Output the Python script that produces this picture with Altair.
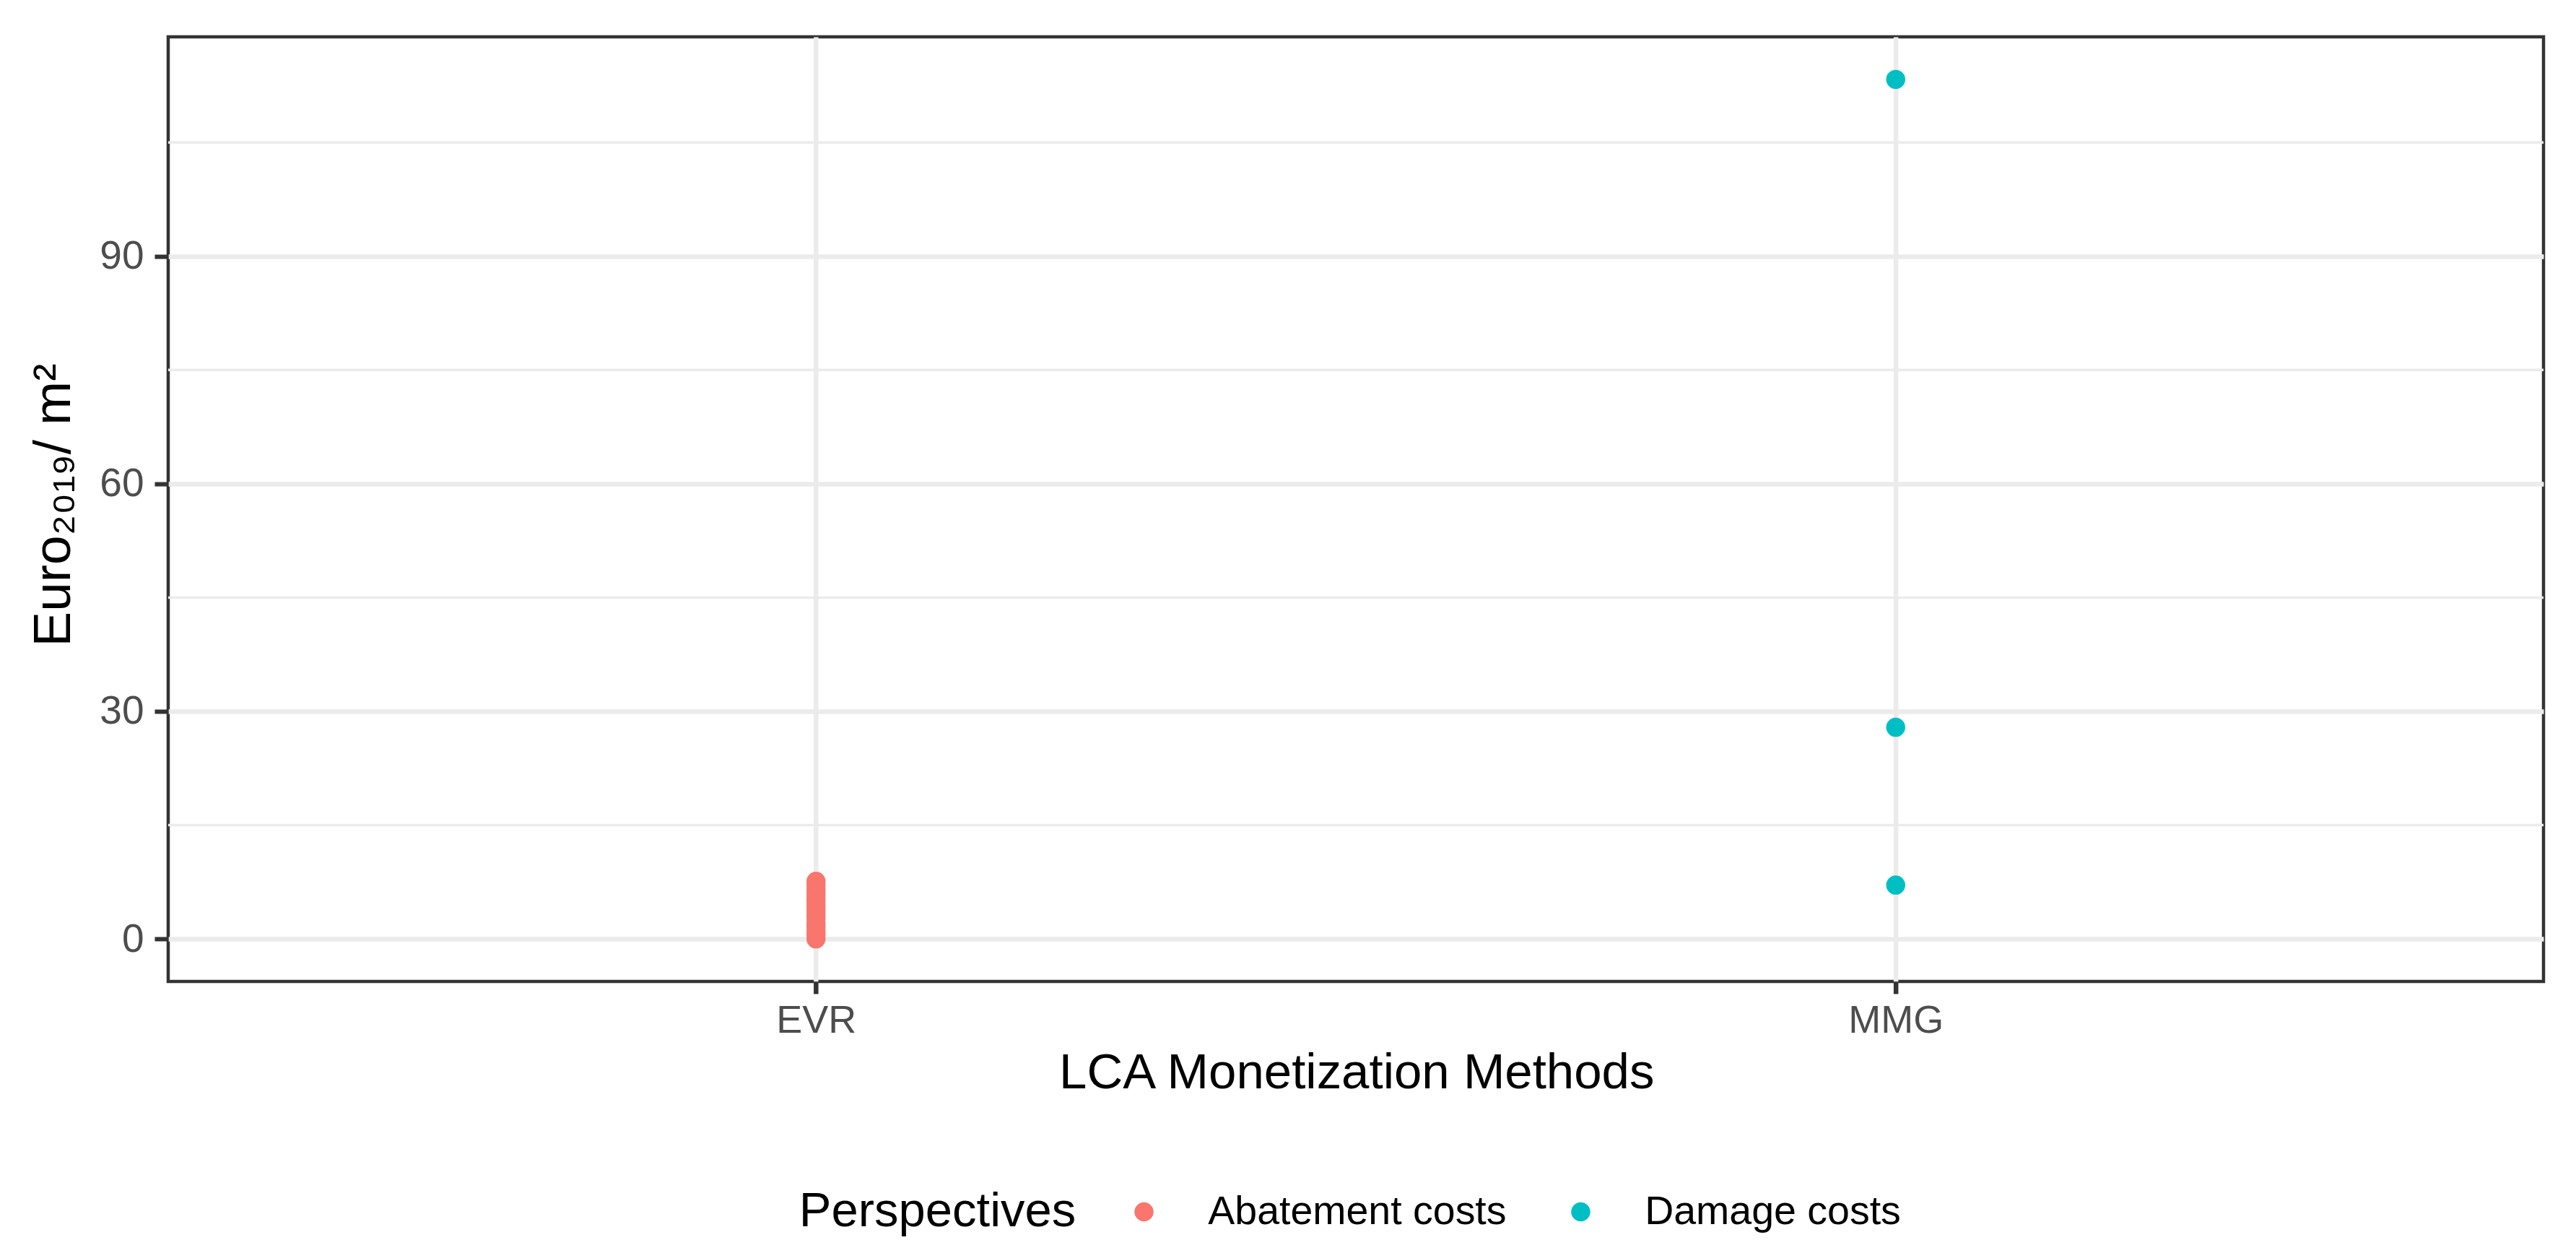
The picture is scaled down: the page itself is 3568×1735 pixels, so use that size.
import altair as alt
import pandas as pd

# ---- data ----
methods = ["EVR", "MMG"]
perspectives = ["Abatement costs", "Damage costs"]
evr_values = [0.0, 0.5, 1.0, 1.6, 2.1, 2.7, 3.2, 3.8, 4.3, 4.9, 5.4, 6.0, 6.5, 7.1, 7.6]
mmg_values = [7.1, 27.9, 113.3]
major_ticks = [0, 30, 60, 90]
minor_grid = [15, 45, 75, 105]
colors = ["#F8766D", "#00BFC4"]

df = pd.DataFrame({
    "method": ["EVR"] * len(evr_values) + ["MMG"] * len(mmg_values),
    "value": evr_values + mmg_values,
    "perspective": ["Abatement costs"] * len(evr_values) + ["Damage costs"] * len(mmg_values),
})
grid_df = pd.DataFrame({"value": minor_grid})

FONT = "Liberation Sans"
W, H = 3290.5, 1308

yscale = alt.Scale(domain=[-5.6, 118.9], nice=False, zero=False)
y_axis = alt.Axis(
    values=major_ticks,
    title="Euro₂₀₁₉/ m²",
    titleFont=FONT, titleFontSize=73, titleFontWeight="normal", titleColor="#000000",
    titleAngle=270, titleAlign="center", titleBaseline="alphabetic",
    titleX=-136, titleY=H / 2 - 6, titleLimit=2000,
    labelFont=FONT, labelFontSize=55, labelColor="#4D4D4D", labelPadding=15,
    tickSize=19, tickWidth=6, tickColor="#333333",
    domain=False, grid=True, gridColor="#EBEBEB", gridWidth=6.5,
)
x_axis = alt.Axis(
    title="LCA Monetization Methods",
    titleFont=FONT, titleFontSize=69, titleFontWeight="normal", titleColor="#000000",
    titleBaseline="alphabetic", titleX=1646, titleY=148, titleAlign="center", titleLimit=3000,
    labelFont=FONT, labelFontSize=54, labelColor="#4D4D4D", labelPadding=11, labelAngle=0,
    tickSize=17, tickWidth=6.5, tickColor="#333333",
    domain=False, grid=True, gridColor="#EBEBEB", gridWidth=6.5,
)

minor = alt.Chart(grid_df).mark_rule(color="#EBEBEB", strokeWidth=3.5).encode(
    y=alt.Y("value:Q", scale=yscale, axis=y_axis)
)

points = alt.Chart(df).mark_circle(size=700, opacity=1).encode(
    x=alt.X("method:N", scale=alt.Scale(type="point", padding=0.6, domain=methods), axis=x_axis),
    y=alt.Y("value:Q", scale=yscale, axis=y_axis),
    color=alt.Color(
        "perspective:N",
        scale=alt.Scale(domain=perspectives, range=colors),
        legend=alt.Legend(
            title="Perspectives", orient="none", legendX=874, legendY=1599,
            direction="horizontal", titleOrient="left",
            titleFont=FONT, titleFontSize=67, titleFontWeight="normal", titleColor="#000000",
            titleBaseline="middle", titleAnchor="middle", titlePadding=66, titleLimit=2000,
            labelFont=FONT, labelFontSize=55.5, labelColor="#000000", labelOffset=61, labelLimit=2000,
            symbolType="circle", symbolSize=700, symbolStrokeWidth=0, symbolOpacity=1,
            columnPadding=75,
        ),
    ),
)

chart = alt.layer(minor, points).properties(
    width=W, height=H,
    autosize=alt.AutoSizeParams(type="none"),
    padding={"left": 225, "top": 43, "right": 37, "bottom": 368},
    background="#FFFFFF",
).configure_view(stroke="#333333", strokeWidth=4.5)

chart.save("out.html", embed_options={"renderer": "svg", "actions": False})
